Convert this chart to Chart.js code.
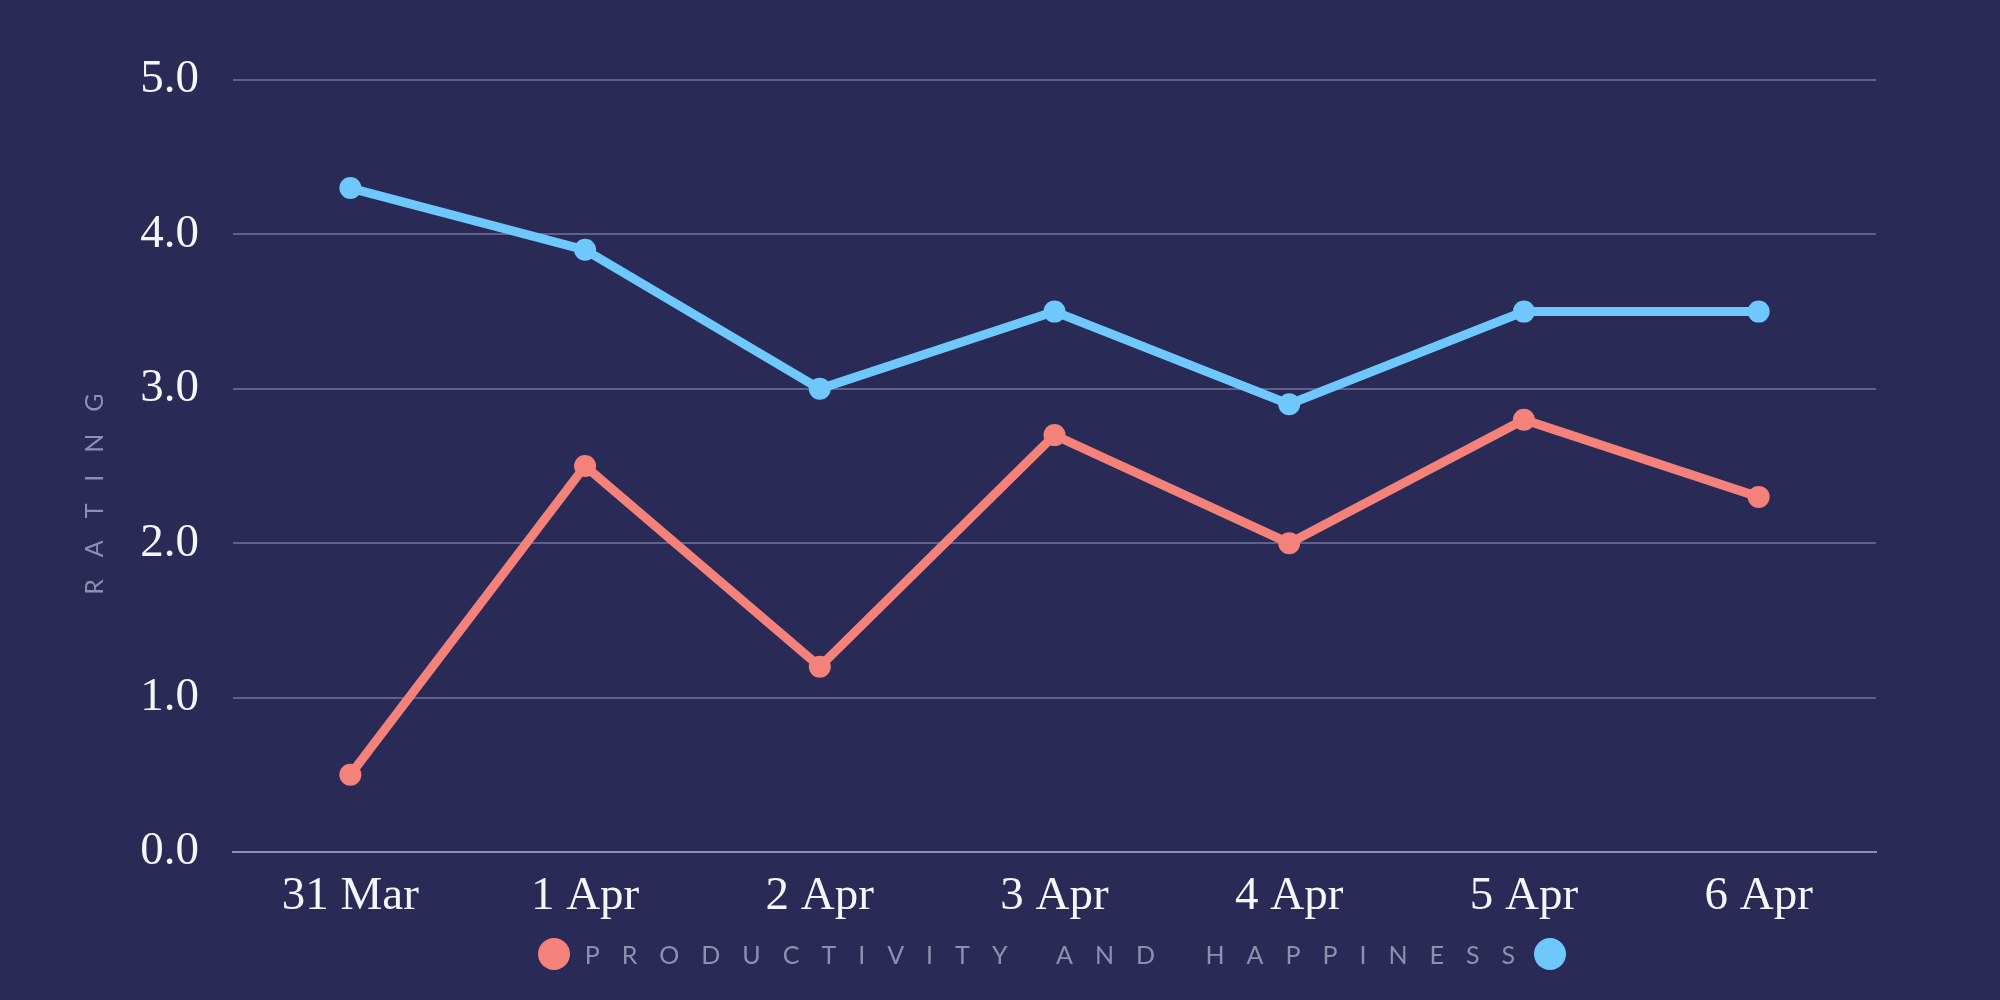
<!DOCTYPE html>
<html>
<head>
<meta charset="utf-8">
<script src="https://cdn.jsdelivr.net/npm/chart.js@4/dist/chart.umd.min.js"></script>
<style>
  html, body { margin: 0; padding: 0; background: #292a56; }
  #wrap { position: relative; width: 2000px; height: 1000px; }
  #graph { position: absolute; left: 0; top: 0; }
  #legend {
    position: absolute; left: 0; top: 934px; width: 2104px;
    display: flex; justify-content: center; align-items: center;
    font-family: Lato, "Open Sans", sans-serif;
    font-size: 25px; color: #8e91ad; height: 40px;
  }
  #legend .txt { letter-spacing: 22px; white-space: pre; }
  #legend .dot {
    display: inline-block; width: 32px; height: 32px; border-radius: 50%;
  }
</style>
</head>
<body>
<div id="wrap">
  <canvas id="graph" width="2000" height="1000"></canvas>
  <div id="legend"><span class="dot" style="background:#f4827b;margin-right:15px"></span><span class="txt">PRODUCTIVITY AND HAPPINESS</span><span class="dot" style="background:#6ec8fc;margin-left:-3px"></span></div>
</div>
<script>
const ctx = document.getElementById('graph');

const days = ['31 Mar', '1 Apr', '2 Apr', '3 Apr', '4 Apr', '5 Apr', '6 Apr'];
const productivity = [0.5, 2.5, 1.2, 2.7, 2.0, 2.8, 2.3];
const happiness = [4.3, 3.9, 3.0, 3.5, 2.9, 3.5, 3.5];

const tickFont = { family: '"Liberation Serif", "DejaVu Serif", serif', size: 47 };

const chart = new Chart(ctx, {
  type: 'line',
  data: {
    labels: days,
    datasets: [{
      label: 'Productivity',
      data: productivity,
      borderColor: '#f4827b',
      backgroundColor: '#f4827b',
      borderWidth: 9,
      pointRadius: 11,
      pointBorderWidth: 0,
      tension: 0
    }, {
      label: 'Happiness',
      data: happiness,
      borderColor: '#6ec8fc',
      backgroundColor: '#6ec8fc',
      borderWidth: 9,
      pointRadius: 11,
      pointBorderWidth: 0,
      tension: 0
    }]
  },
  options: {
    responsive: false,
    animation: false,
    layout: { padding: { top: 80, right: 124, left: 0, bottom: 0 } },
    plugins: {
      legend: { display: false },
      tooltip: { enabled: false }
    },
    scales: {
      x: {
        offset: true,
        grid: { display: false },
        border: { display: true, color: '#8e91ad', width: 2 },
        ticks: { color: '#f2f7fa', font: tickFont, padding: 8 },
        afterFit: (s) => { s.height = 148; }
      },
      y: {
        min: 0,
        max: 5,
        ticks: {
          stepSize: 1,
          color: '#f2f7fa',
          font: tickFont,
          padding: 34,
          callback: (v) => Number(v).toFixed(1)
        },
        grid: { color: '#5f6188', lineWidth: 2, drawTicks: false },
        border: { display: false },
        title: {
          display: true,
          // trailing spaces push the word down like css letter-spacing does
          text: 'R\u2003\u2009A\u2003\u2009T\u2003\u2009I\u2003\u2009N\u2003\u2009G\u2003\u2003\u2003',
          color: '#8e91ad',
          font: { family: 'Lato, "Open Sans", sans-serif', size: 25 },
          padding: { top: 80, bottom: 0 }
        },
        afterFit: (s) => { s.width = 233; }
      }
    }
  }
});
</script>
</body>
</html>
